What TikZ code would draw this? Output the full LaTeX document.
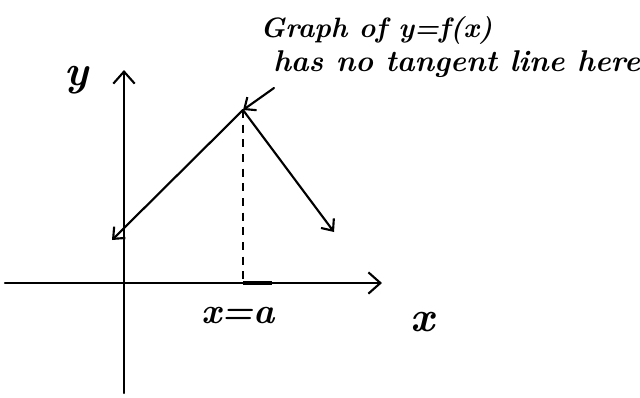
\documentclass[tikz,border=0pt]{standalone}
\usetikzlibrary{arrows.meta}
\begin{document}
\begin{tikzpicture}[x=0.75pt,y=-0.75pt,
  ink/.style={line width=1.6pt,line cap=round},
  barb/.style={-{Straight Barb[length=9pt,width=16pt,line width=1.6pt]}},
  small barb/.style={-{Straight Barb[length=7pt,width=12pt,line width=1.6pt]}},
  hand/.style={font=\fontsize{21}{24}\selectfont\itshape\bfseries, inner sep=0pt}]
\useasboundingbox (0,0) rectangle (640,397);
\coordinate (yb) at (124,393);
\coordinate (yt) at (124,70);
\coordinate (xl) at (5,283);
\coordinate (xr) at (382,283);
\coordinate (peak) at (243,110);
\coordinate (lend) at (112,240);
\coordinate (rend) at (334,232);
\coordinate (foot) at (243,283);
\coordinate (tick) at (272,283);
\draw[ink,barb] (yb) -- (yt);
\draw[ink,barb] (xl) -- (xr);
\draw[ink,small barb] (peak) -- (lend);
\draw[ink,small barb] (peak) -- (rend);
\draw[line width=1.2pt,dashed,dash pattern=on 6pt off 5pt] (peak) -- (foot);
\draw[line width=3pt] (foot) -- (tick);
\node[hand] (ylab) at (76,80) {\fontsize{32}{34}\selectfont y};
\node[hand] (xlab) at (422,322) {\fontsize{32}{34}\selectfont x};
\node[hand] (xa) at (238,316) {\fontsize{27}{30}\selectfont x=a};
\node[hand,anchor=west] (l1) at (260,30) {Graph of y=f(x)};
\node[hand,anchor=west] (l2) at (273,64) {\fontsize{22.5}{25}\selectfont has no tangent line here};
\coordinate (as) at (274,88);
\draw[ink,small barb] (as) -- (peak);
\end{tikzpicture}
\end{document}
